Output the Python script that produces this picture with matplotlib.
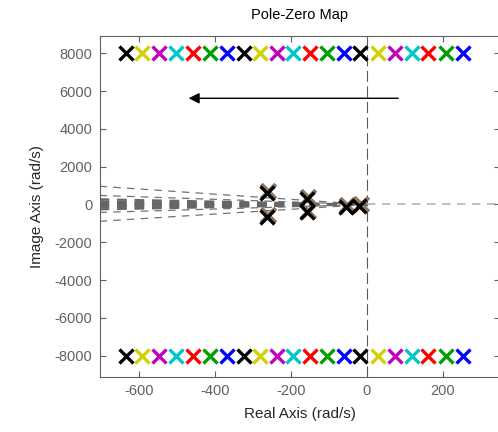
import matplotlib
matplotlib.use("Agg")
import matplotlib.pyplot as plt
import matplotlib.transforms as mtransforms
import numpy as np

plt.rcParams['font.family'] = ['Liberation Sans', 'DejaVu Sans']
plt.rcParams['axes.unicode_minus'] = False

# ---- data ----
# high-frequency pole pairs (real part) for each system, right to left
pole_re = [254, 208, 162, 118, 74, 30, -17, -61, -105, -149, -194,
           -238, -282, -324, -370, -414, -458, -504, -548, -592, -634]
pole_im = [8000] * 21
color_names = ['blue', 'green', 'red', 'cyan', 'magenta', 'yellow', 'black'] * 3
# low-frequency poles common to all systems
near_re = [-264, -264, -158, -158, -55, -20]
near_im = [620, -640, 300, -400, -110, -60]
# dashed ray end points (imag value at left edge)
ray_thin = [963, 480, -420, -889]
ray_band = [280, 180, 90, 30, -30, -90, -180, -260]
arrow_from = (83, 5620)
arrow_to = (-470, 5620)
xticks = [-600, -400, -200, 0, 200]
yticks = [-8000, -6000, -4000, -2000, 0, 2000, 4000, 6000, 8000]
xlim = (-705, 350)
ylim = (-9110, 8930)

palette = {'blue': (0, 0, 1), 'green': (0, 0.62, 0), 'red': (1, 0, 0),
           'cyan': (0, 0.78, 0.78), 'magenta': (0.75, 0, 0.75),
           'yellow': (0.82, 0.82, 0), 'black': (0, 0, 0)}

fig = plt.figure(figsize=(4.98, 4.32), dpi=100)
W, H = 498, 432
L, R, T, B = 99.5, 499.5, 35.7, 376.7
ax = fig.add_axes([L / W, 1 - B / H, (R - L) / W, (B - T) / H])
ax.set_xlim(*xlim)
ax.set_ylim(*ylim)

# axis lines
ax.axvline(0, color=(0.35, 0.35, 0.35), lw=0.8, ls=(0, (10, 4)), zorder=1)
ax.plot([0, xlim[1]], [0, 0], color=(0.7, 0.7, 0.7), lw=1.2, ls=(0, (5, 4)), zorder=1)

# rays
for yv in ray_thin:
    ax.plot([xlim[0], 0], [yv, 0], color=(0.45, 0.45, 0.45), lw=0.9,
            ls=(0, (6, 5)), zorder=1)
for yv in ray_band:
    ax.plot([xlim[0], 0], [yv, 0], color=(0.4, 0.4, 0.4), lw=1.4,
            ls=(0, (5, 4)), zorder=1)

ms = 10
mew = 2.4
for re, im, cn in zip(pole_re, pole_im, color_names):
    c = palette[cn]
    ax.plot([re, re], [im, -im], ls='none', marker='x', ms=ms, mew=mew, color=c, zorder=3)

# near-origin poles: colored layer slightly offset under black
off = mtransforms.offset_copy(ax.transData, fig=fig, x=1.5, y=1.5, units='dots')
for cn in color_names:
    if cn == 'black':
        continue
    ax.plot(near_re, near_im, ls='none', marker='x', ms=ms, mew=mew,
            color=palette[cn], alpha=0.35, transform=off, zorder=3)
ax.plot(near_re, near_im, ls='none', marker='x', ms=ms, mew=mew, color='k', zorder=4)

ax.annotate('', xy=arrow_to, xytext=arrow_from,
            arrowprops=dict(arrowstyle='-|>', color='k', lw=1.0, mutation_scale=16,
                            shrinkA=0, shrinkB=0), zorder=5)

ax.set_xticks(xticks)
ax.set_yticks(yticks)
gray = (0.38, 0.38, 0.38)
ax.tick_params(direction='in', top=True, right=True, length=4, width=0.8,
               colors=gray, labelsize=10.5, labelcolor=gray, pad=5)
for s in ax.spines.values():
    s.set_color(gray)
    s.set_linewidth(0.8)

ax.set_xlabel('Real Axis (rad/s)', fontsize=11, color=(0.15, 0.15, 0.15), labelpad=7)
ax.set_ylabel('Image Axis (rad/s)', fontsize=11, color=(0.15, 0.15, 0.15), labelpad=8)
ax.set_title('Pole-Zero Map', fontsize=10.5, color='k', pad=12)

fig.savefig('out.png', dpi=100)
